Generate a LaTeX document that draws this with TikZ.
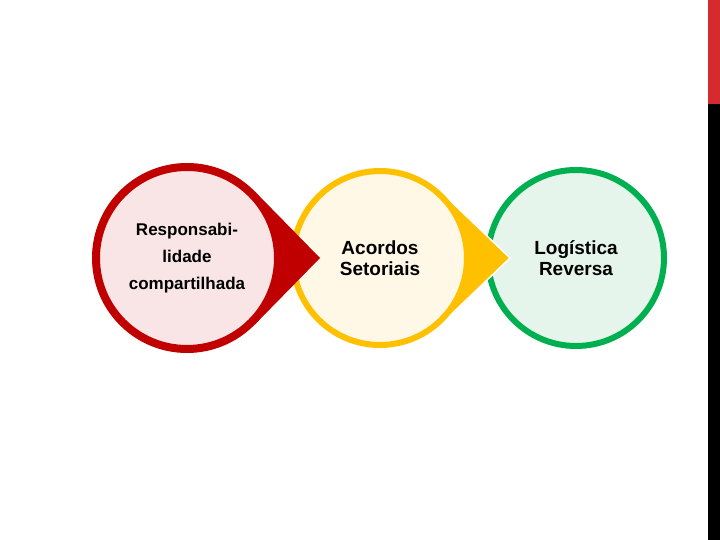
\documentclass[tikz,border=0pt]{standalone}
\usepackage{fontspec}
\setmainfont{Liberation Sans}
\definecolor{RingRed}{HTML}{C00000}
\definecolor{FillRed}{HTML}{F9E5E5}
\definecolor{RingGold}{HTML}{FFC000}
\definecolor{FillGold}{HTML}{FFF8E7}
\definecolor{RingGreen}{HTML}{00B050}
\definecolor{FillGreen}{HTML}{E5F5EC}
\definecolor{BarRed}{HTML}{D52B2F}
\begin{document}
\begin{tikzpicture}[x=1pt,y=1pt,
  ring/.style={circle,inner sep=0pt,align=center,text=black},
  tip/.style={line join=miter}
]
\useasboundingbox (0,0) rectangle (720,540);
% side bar
\fill[BarRed] (708,436) rectangle (720,540);
\fill[black] (708,0) rectangle (720,436);
% centres and tips
\coordinate (m1) at (187,282);
\coordinate (m2) at (380,282);
\coordinate (m3) at (576,282);
\coordinate (p1) at (320,282);
\coordinate (p2) at (510,282);
\node[ring,draw=RingGreen,fill=FillGreen,line width=6pt,minimum size=176pt,
  font=\fontsize{19pt}{21pt}\selectfont\bfseries] (logistica) at (m3) {Logística\\Reversa};
\fill[RingGold,tip,draw=white,line width=1.5pt] (p2) -- ([shift={(46.2:90)}]m2) -- ([shift={(-46.2:90)}]m2) -- cycle;
\node[ring,draw=RingGold,fill=FillGold,line width=6pt,minimum size=174pt,
  font=\fontsize{19pt}{21pt}\selectfont\bfseries] (acordos) at (m2) {Acordos\\Setoriais};
\fill[RingRed,tip] (p1) -- ([shift={(44.4:95)}]m1) -- ([shift={(-44.4:95)}]m1) -- cycle;
\node[ring,draw=RingRed,fill=FillRed,line width=8pt,minimum size=182pt,
  font=\fontsize{17pt}{26.7pt}\selectfont\bfseries] (resp) at (m1) {Responsabi-\\lidade\\compartilhada};
\end{tikzpicture}
\end{document}
